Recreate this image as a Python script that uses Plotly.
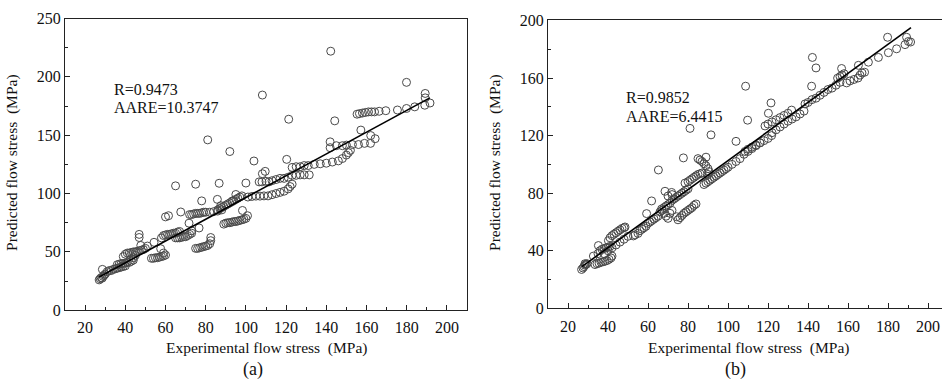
import plotly.graph_objects as go

# ---------------- data (a) ----------------
exp_a = [27, 27.5, 28, 28.5, 29, 29.5, 28.6, 30,
         31, 32, 33, 34, 35, 36, 37, 38, 39, 40,
         36, 37, 38, 39, 40, 41, 42, 43, 44,
         39, 40, 41, 42, 43, 44, 45, 46, 47, 48, 49, 50, 51,
         46.9, 46.9, 47.7, 54.3, 44, 45,
         53, 54, 55, 56, 57, 58, 59, 60, 59, 57.6,
         58, 59, 60, 61, 62, 63, 64, 65, 66, 67, 65, 66, 67, 68, 69, 70, 71, 72, 73, 73,
         60, 61.5, 65, 67.6, 71.7, 76.7, 78,
         72, 73, 74, 75, 76, 77, 78, 79, 80, 82, 84, 86, 88,
         75, 76, 77, 78, 79, 80, 81, 82, 82.5, 82.5,
         75, 81, 86.7, 85.8, 87.5, 93.3, 95, 92,
         86, 87, 88, 89, 90, 91, 92, 93, 94, 95, 96, 97, 98,
         89, 90, 91, 92, 93, 94, 95, 96, 97, 98, 99, 100, 100.8, 98.3,
         101, 103, 105, 107, 109, 111, 113, 115, 117, 119, 121, 122, 123,
         106.6, 108, 110, 111.5, 113, 115, 117, 119, 121, 123, 125, 127, 129, 131.5,
         108.2, 100, 108.2, 121.3, 144.2, 109.6, 104, 120.3,
         123, 125, 127, 129, 131, 134, 137, 140, 143, 146, 148, 150, 151, 152,
         141.9, 141.9,
         145, 148, 150, 153, 156, 159, 162, 164.3, 162.1, 157.2,
         155.3, 156.5, 158, 159.5, 161, 162.5, 164, 166.3, 169.6, 175.4, 179.9, 184, 189, 191.6,
         189.2, 189.2, 179.9, 142.2]
pred_a = [26, 27, 28, 27.5, 29, 30, 35, 31,
          33, 34, 34, 35, 35.5, 36, 36.5, 37, 37.5, 38,
          39, 39.5, 40, 40, 40.5, 41, 41, 42, 43,
          46, 48, 49, 49, 49.5, 50, 50, 50.5, 51, 51.5, 52, 53, 55,
          65, 62.3, 55.5, 58.2, 45, 47,
          44.5, 44.5, 45, 45, 45.5, 46, 46.5, 47.3, 49, 52.7,
          62, 64, 64.5, 65, 65, 65.5, 66, 66, 67, 67.5, 62, 62, 62, 62.5, 63, 63, 64, 65, 66, 68,
          80, 81, 106.6, 84.2, 74.6, 70.5, 93.7,
          82, 82, 82.5, 83, 83, 83, 83.5, 84, 84, 84, 84.5, 85, 86,
          53, 53, 53.5, 54, 54.5, 55, 55.5, 57, 59.6, 62.3,
          108, 146, 108.8, 95, 89.6, 93.7, 99.2, 136,
          86, 87, 88, 89, 90, 91, 92, 93, 94, 95, 96, 97, 98,
          73.8, 74.6, 75, 75, 75.5, 76, 76, 76.5, 77, 77.5, 78, 78.7, 81, 85.5,
          97, 97.5, 97.8, 97.8, 98, 98, 99, 100, 101, 102, 104, 106, 108,
          110, 110, 110.5, 110, 111, 112, 113, 113, 114, 115.6, 115.6, 116, 116, 116,
          117, 109, 184.4, 163.7, 162.3, 119, 127.9, 129.3,
          122.4, 123, 123, 124, 124, 125, 125.5, 126, 127, 128, 130, 133, 135, 137,
          144.3, 139.3,
          141, 141, 141.5, 142, 142, 143, 143, 147, 149.7, 154.4,
          168, 168.5, 169, 169.5, 170, 170, 170, 170.5, 171, 171.6, 172.9, 174.3, 175.7, 177.6,
          182, 185.8, 195.3, 222]
fit_a_x = [27, 191.5]
fit_a_y = [28.5, 182]

# ---------------- data (b) ----------------
exp_b = [26.8, 27.5, 28, 28.5, 29, 29.5, 28.5,
         33.5, 34.5, 35.5, 36.5, 37.5, 38.5, 39.5, 40.5, 41.5, 42, 32.7,
         35, 36, 37, 38, 39, 40, 41, 35.2, 40.2,
         41, 42, 43, 44, 45, 46, 47, 48, 48.5,
         38, 40, 42, 44, 46, 48, 50, 52.7, 53.5, 55, 56, 57, 58, 59, 60, 61, 62, 63, 64, 65,
         61.8, 59.3,
         66.8, 68, 69, 70, 71, 72, 74.3,
         75, 76, 77, 78, 79, 80, 81, 82, 83, 84,
         66, 67, 68, 69, 70, 71, 72, 73, 74, 75, 76, 77, 78, 79, 80, 68.5, 71.8, 70, 72,
         78.5, 80, 81, 82, 83, 84, 85, 86, 87,
         85, 86, 87, 88, 89, 90, 90.5, 90,
         77.7, 65.2, 81, 91.5, 89,
         88, 89, 90, 91, 92, 93, 94, 95, 96, 97, 98, 99, 100, 102, 104, 106, 108, 110, 112, 114, 116,
         108.8, 109.8, 104,
         108.5, 110, 112, 114, 116, 118, 120, 121.8,
         118.5, 120, 122, 124, 126, 128, 130, 131.8,
         120.2, 121.5,
         122, 124, 126, 128, 130, 132, 134, 136, 138,
         138.5, 140, 142, 144, 146, 148, 150, 152, 154, 156,
         141.8, 142.2, 144,
         154.8, 156, 157, 158, 159.3, 161, 163, 165, 166, 167, 168.3, 156.8, 165.2,
         170.2, 175.2, 180.2, 184.3, 179.8, 188.5, 189.3, 190.2, 191.3]
pred_b = [27, 28, 29, 30, 30.5, 31, 31,
          30.4, 31, 31.4, 32, 32.3, 32.7, 33.2, 34, 35, 36.3, 36.3,
          38, 40, 41, 41.5, 42, 42.5, 43, 43.6, 47,
          49, 50.5, 51.5, 52.5, 53.5, 54.5, 55.5, 56, 56.5,
          38, 40, 42, 44, 46, 48, 50, 50.3, 51, 52, 54, 55, 56, 57, 59, 60, 61, 62, 63, 64,
          74.6, 65.8,
          69, 66, 64, 62.5, 66, 68, 63.6,
          61.5, 63, 64.5, 66, 67, 68, 69, 70, 71.5, 72.5,
          67, 68, 70, 71, 72, 73, 75, 76, 77, 78, 79, 80, 81, 82, 83, 81.3, 80.5, 78, 79,
          87, 88, 89, 90, 91, 92, 93, 93.5, 94,
          104, 103, 102, 100.5, 99, 97, 95, 93,
          104.5, 96.1, 125, 120.5, 105,
          86, 87, 88, 89, 90, 91, 92, 93, 94, 95, 96, 97, 98, 100, 102, 104, 107, 109, 111, 113, 115,
          154.3, 130.7, 116,
          109, 110.5, 112, 113.5, 115, 116.5, 118, 120,
          126.7, 128, 129.5, 131, 132.5, 134, 135.5, 137.7,
          135.5, 142.7,
          122, 124, 126, 128, 130, 131.5, 133, 135, 137,
          142, 143, 145, 146, 148, 150, 152, 153, 155, 157,
          154.3, 174.3, 167,
          159.9, 161, 162, 163, 156.6, 158, 159, 160, 162, 163.5, 164, 166.6, 168.8,
          171, 174.3, 177.6, 180.3, 188.3, 183.2, 188.3, 185.4, 185]
fit_b_x = [27, 191.5]
fit_b_y = [29, 195]

x_ticks = [20, 40, 60, 80, 100, 120, 140, 160, 180, 200]

FONT = "Liberation Serif"
AX = "#222222"
MK = dict(symbol="circle-open", size=8, color="#4a4a4a", line=dict(width=1, color="#4a4a4a"))

fig = go.Figure()
fig.add_trace(go.Scatter(x=exp_a, y=pred_a, mode="markers", marker=MK, xaxis="x", yaxis="y", showlegend=False))
fig.add_trace(go.Scatter(x=fit_a_x, y=fit_a_y, mode="lines", line=dict(color="black", width=1.6), xaxis="x", yaxis="y", showlegend=False))
fig.add_trace(go.Scatter(x=exp_b, y=pred_b, mode="markers", marker=MK, xaxis="x2", yaxis="y2", showlegend=False))
fig.add_trace(go.Scatter(x=fit_b_x, y=fit_b_y, mode="lines", line=dict(color="black", width=1.6), xaxis="x2", yaxis="y2", showlegend=False))

tickfont = dict(family=FONT, size=16, color="#111")
common = dict(showline=True, linecolor=AX, linewidth=1, ticks="inside", ticklen=5, tickcolor=AX,
              tickfont=tickfont, showgrid=False, zeroline=False)

W, H = 942, 390
fig.update_layout(
    width=W, height=H, margin=dict(l=0, r=0, t=0, b=0),
    paper_bgcolor="white", plot_bgcolor="white",
    xaxis=dict(domain=[65 / W, 467 / W], range=[10, 210], tickvals=x_ticks, anchor="y", mirror=True,
               ticklabelstandoff=3,
               minor=dict(ticks="inside", ticklen=3, dtick=10, tick0=10, tickcolor=AX), **common),
    yaxis=dict(domain=[1 - 316 / H, 1 - 11 / H], range=[0, 250], dtick=50, anchor="x", mirror=True,
               minor=dict(ticks="inside", ticklen=3, dtick=25, tick0=0, tickcolor=AX), **common),
    xaxis2=dict(domain=[548 / W, 1.0], range=[10, 207], tickvals=x_ticks, anchor="y2", mirror=True,
                ticklabelstandoff=3,
                minor=dict(ticks="inside", ticklen=3, dtick=10, tick0=10, tickcolor=AX), **common),
    yaxis2=dict(domain=[1 - 314 / H, 1 - 13 / H], range=[0, 200], dtick=40, anchor="x2", mirror=False,
                minor=dict(ticks="inside", ticklen=3, dtick=20, tick0=0, tickcolor=AX), **common),
)

def ann(x, y, text, size, angle=0, xanchor="center"):
    fig.add_annotation(x=x / W, y=1 - y / H, xref="paper", yref="paper", text=text, showarrow=False,
                       textangle=angle, xanchor=xanchor, yanchor="middle",
                       font=dict(family=FONT, size=size, color="#111"))

ann(266, 356, "Experimental flow stress  (MPa)", 15.5)
ann(748, 356, "Experimental flow stress  (MPa)", 15.5)
ann(12, 162, "Predicted flow stress  (MPa)", 15.5, angle=-90)
ann(495, 162, "Predicted flow stress  (MPa)", 15.5, angle=-90)
ann(253, 378, "(a)", 18)
ann(735, 378, "(b)", 18)
ann(112, 85, "R=0.9473", 16, xanchor="left")
ann(112, 104, "AARE=10.3747", 16, xanchor="left")
ann(624, 94, "R=0.9852", 16, xanchor="left")
ann(624, 113, "AARE=6.4415", 16, xanchor="left")

fig.write_html("out.html")
